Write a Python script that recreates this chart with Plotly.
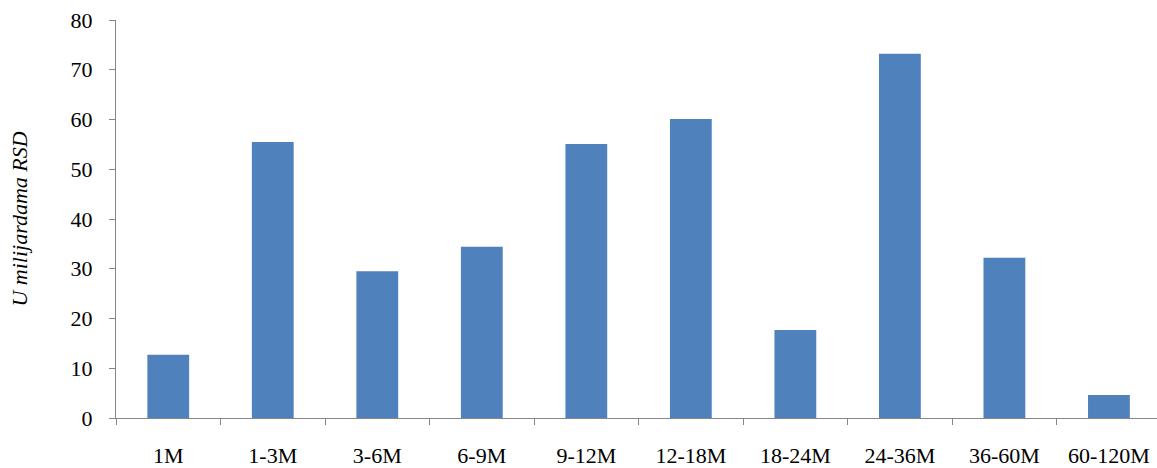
import plotly.graph_objects as go

categories = ["1M", "1-3M", "3-6M", "6-9M", "9-12M", "12-18M", "18-24M", "24-36M", "36-60M", "60-120M"]
values = [12.7, 55.5, 29.5, 34.4, 55.1, 60.1, 17.7, 73.2, 32.2, 4.6]
y_ticks = [0, 10, 20, 30, 40, 50, 60, 70, 80]

fig = go.Figure(go.Bar(x=categories, y=values, marker=dict(color="#4F81BD", line=dict(width=0)), width=0.4))

font = dict(family="Liberation Serif, Times New Roman, serif", size=22, color="#000000")
fig.update_layout(
    width=1157, height=468,
    margin=dict(l=116, r=0, t=20, b=50),
    paper_bgcolor="white", plot_bgcolor="white",
    font=font, showlegend=False,
)
fig.update_xaxes(
    showline=True, linecolor="#868686", linewidth=1, automargin=False,
    ticks="outside", tickson="boundaries", ticklen=6, tickcolor="#868686",
    ticklabelstandoff=18, showgrid=False, range=[-0.5, 9.46],
)
fig.update_yaxes(
    range=[0, 80], tickvals=y_ticks, showline=True, linecolor="#868686", linewidth=1,
    ticks="outside", ticklen=6, tickcolor="#868686", ticklabelstandoff=12,
    showgrid=False, zeroline=False, automargin=False,
    title=dict(text="<i>U milijardama RSD</i>", font=font, standoff=36),
)
fig.write_html("out.html", config={"displayModeBar": False},
               post_script="document.body.style.margin='0';document.body.style.overflow='hidden';")
